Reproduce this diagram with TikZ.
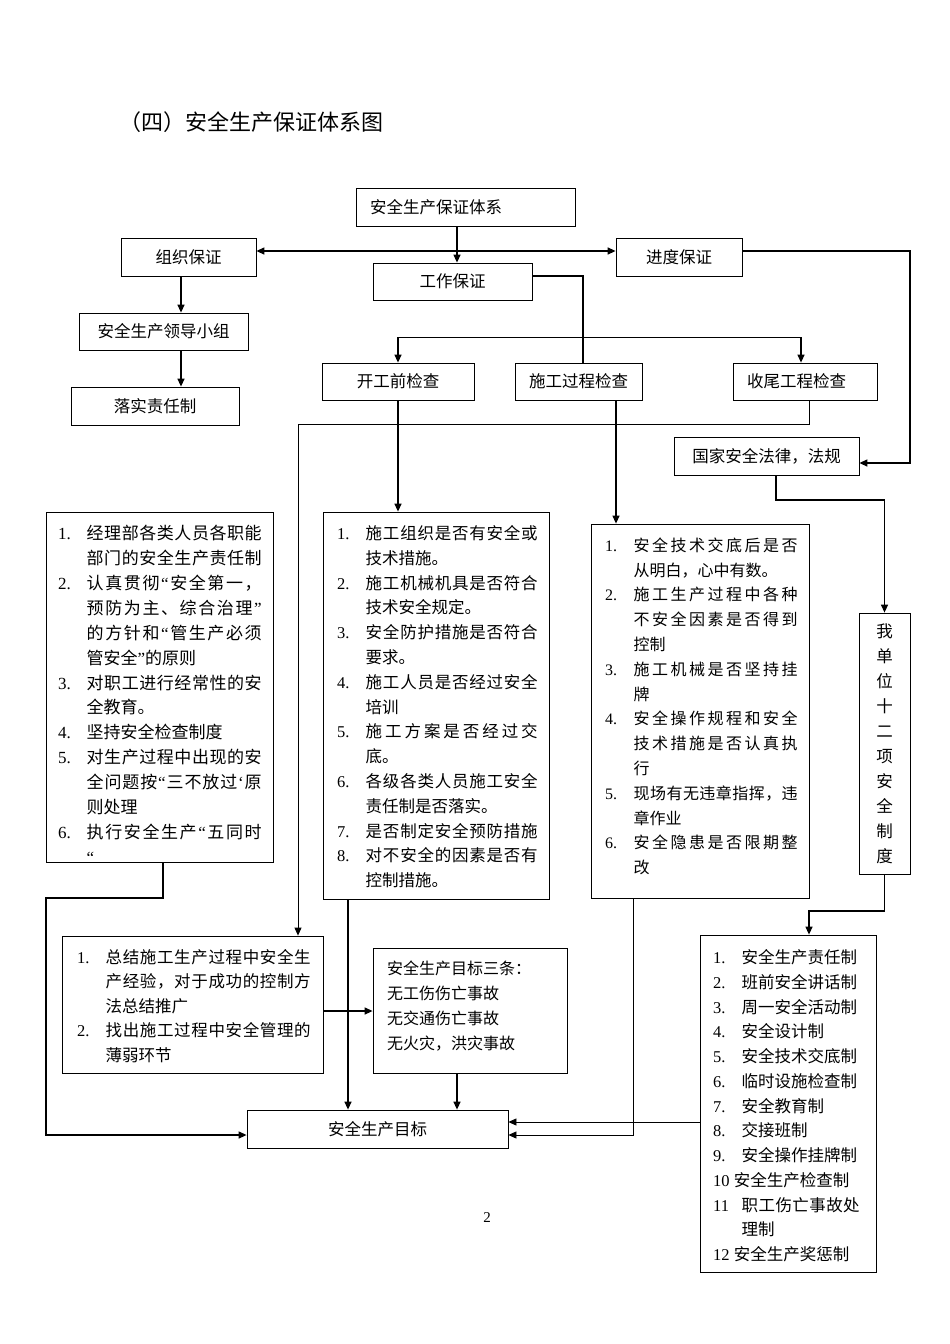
\documentclass[tikz,border=0pt]{standalone}
\usepackage{fontspec}
\setmainfont{Liberation Serif}
\newfontfamily\cjk{Noto Sans CJK SC}
\newfontfamily\numf{Liberation Serif}
\usetikzlibrary{arrows.meta}
\def\spE{SPEND}
\def\spA#1{#1\spB}
\def\spB#1{\ifx\spE#1\else\hfill#1\expandafter\spB\fi}
\newcommand\SP[2]{\makebox[#1pt][s]{\spA#2\spE}}
\newcommand\NI[2]{\strut\makebox[28.5pt][l]{\numf #1}#2}
\newcommand\CI[1]{\strut\hspace*{28.5pt}#1}
\newcommand\qL{{\numf “}}
\newcommand\qR{{\numf ”}}
\newcommand\qS{{\numf ‘}}
\begin{document}
\begin{tikzpicture}[x=1pt,y=-1pt,
  box/.style={draw,line width=0.8pt,inner sep=0pt,font=\cjk\fontsize{16.5}{20}\selectfont},
  lst/.style={inner sep=0pt,anchor=north west,align=left},
  thk/.style={line width=1.3pt},
  thn/.style={line width=0.8pt},
  arr/.style={-{Triangle[length=8pt,width=7pt]}}]
\fill[white] (0,0) rectangle (950,1344);
\useasboundingbox (0,0) rectangle (950,1344);

% title
\node[anchor=west,inner sep=0pt,font=\cjk\fontsize{22}{26}\selectfont] (title) at (119,122) {（四）安全生产保证体系图};

% top boxes
\node[box,minimum width=219pt,minimum height=38pt] (top) at (465.5,207) {\makebox[191pt][l]{安全生产保证体系}};
\node[box,minimum width=135pt,minimum height=38pt] (org) at (188.5,257) {组织保证};
\node[box,minimum width=159pt,minimum height=37pt] (work) at (452.5,281.5) {工作保证};
\node[box,minimum width=126pt,minimum height=38pt] (jindu) at (679,257) {进度保证};
\node[box,minimum width=169pt,minimum height=37pt] (lead) at (163.5,331.5) {安全生产领导小组};
\node[box,minimum width=168pt,minimum height=38pt] (luoshi) at (155,406) {落实责任制};
\node[box,minimum width=152pt,minimum height=37pt] (start) at (398,381.5) {开工前检查};
\node[box,minimum width=127pt,minimum height=37pt] (proc) at (578.5,381.5) {施工过程检查};
\node[box,minimum width=144pt,minimum height=37pt] (tail) at (805,381.5) {\makebox[116pt][l]{收尾工程检查}};
\node[box,minimum width=185pt,minimum height=38pt] (law) at (766.5,456) {国家安全法律，法规};

% list boxes
\node[box,minimum width=227pt,minimum height=350pt] (lbox) at (159.5,687) {};
\node[box,minimum width=226pt,minimum height=387pt] (mbox) at (436,705.5) {};
\node[box,minimum width=218pt,minimum height=374pt] (rbox) at (700,711) {};
\node[box,minimum width=51pt,minimum height=261pt,align=center,font=\cjk\fontsize{16.5}{25}\selectfont] (vbox) at (884.5,743.5) {我\\单\\位\\十\\二\\项\\安\\全\\制\\度};
\node[box,minimum width=261pt,minimum height=137pt] (sum) at (192.5,1004.5) {};
\node[box,minimum width=194pt,minimum height=125pt] (three) at (470,1010.5) {};
\node[box,minimum width=261pt,minimum height=38pt] (target) at (377.5,1129) {安全生产目标};
\node[box,minimum width=176pt,minimum height=337pt] (twelve) at (788,1103.5) {};

% list texts
\node[lst,font=\cjk\fontsize{17}{24.9}\selectfont] (ltxt) at (58,522) {%
\NI{1.}{\SP{175}{经理部各类人员各职能}}\\
\CI{\SP{175}{部门的安全生产责任制}}\\
\NI{2.}{\SP{175}{认真贯彻\qL 安全第一，}}\\
\CI{\SP{175}{预防为主、综合治理\qR}}\\
\CI{\SP{175}{的方针和\qL 管生产必须}}\\
\CI{管安全\qR 的原则}\\
\NI{3.}{\SP{175}{对职工进行经常性的安}}\\
\CI{全教育。}\\
\NI{4.}{坚持安全检查制度}\\
\NI{5.}{\SP{175}{对生产过程中出现的安}}\\
\CI{\SP{175}{全问题按\qL 三不放过\qS 原}}\\
\CI{则处理}\\
\NI{6.}{\SP{175}{执行安全生产\qL 五同时}}\\
\CI{\qL}};

\node[lst,font=\cjk\fontsize{16.5}{24.8}\selectfont] (mtxt) at (337,522) {%
\NI{1.}{\SP{172}{施工组织是否有安全或}}\\
\CI{技术措施。}\\
\NI{2.}{\SP{172}{施工机械机具是否符合}}\\
\CI{技术安全规定。}\\
\NI{3.}{\SP{172}{安全防护措施是否符合}}\\
\CI{要求。}\\
\NI{4.}{\SP{172}{施工人员是否经过安全}}\\
\CI{培训}\\
\NI{5.}{\SP{172}{施工方案是否经过交}}\\
\CI{底。}\\
\NI{6.}{\SP{172}{各级各类人员施工安全}}\\
\CI{责任制是否落实。}\\
\NI{7.}{\SP{172}{是否制定安全预防措施}}\\
\NI{8.}{\SP{172}{对不安全的因素是否有}}\\
\CI{控制措施。}};

\node[lst,font=\cjk\fontsize{16}{24.8}\selectfont] (rtxt) at (605,533.7) {%
\NI{1.}{\SP{164}{安全技术交底后是否}}\\
\CI{从明白，心中有数。}\\
\NI{2.}{\SP{164}{施工生产过程中各种}}\\
\CI{\SP{164}{不安全因素是否得到}}\\
\CI{控制}\\
\NI{3.}{\SP{164}{施工机械是否坚持挂}}\\
\CI{牌}\\
\NI{4.}{\SP{164}{安全操作规程和安全}}\\
\CI{\SP{164}{技术措施是否认真执}}\\
\CI{行}\\
\NI{5.}{\SP{164}{现场有无违章指挥，违}}\\
\CI{章作业}\\
\NI{6.}{\SP{164}{安全隐患是否限期整}}\\
\CI{改}};

\node[lst,font=\cjk\fontsize{16.5}{24.5}\selectfont] (stxt) at (77,946) {%
\NI{1.}{\SP{205}{总结施工生产过程中安全生}}\\
\CI{\SP{205}{产经验，对于成功的控制方}}\\
\CI{法总结推广}\\
\NI{2.}{\SP{205}{找出施工过程中安全管理的}}\\
\CI{薄弱环节}};

\node[lst,font=\cjk\fontsize{16}{25}\selectfont] (ttxt) at (387,956.6) {%
\strut 安全生产目标三条：\\
\strut 无工伤伤亡事故\\
\strut 无交通伤亡事故\\
\strut 无火灾，洪灾事故};

\node[lst,font=\cjk\fontsize{16.5}{24.75}\selectfont] (wtxt) at (713,946) {%
\NI{1.}{安全生产责任制}\\
\NI{2.}{班前安全讲话制}\\
\NI{3.}{周一安全活动制}\\
\NI{4.}{安全设计制}\\
\NI{5.}{安全技术交底制}\\
\NI{6.}{临时设施检查制}\\
\NI{7.}{安全教育制}\\
\NI{8.}{交接班制}\\
\NI{9.}{安全操作挂牌制}\\
\strut{\numf 10 }安全生产检查制\\
\NI{11}{\SP{118}{职工伤亡事故处}}\\
\CI{理制}\\
\strut{\numf 12 }安全生产奖惩制};

% page number
\node[inner sep=0pt,font=\numf\fontsize{15}{18}\selectfont] (pg) at (487,1218) {2};

% coordinates
\coordinate (j1) at (457,251);
\coordinate (j2) at (181,300);
\coordinate (j3) at (583,276);
\coordinate (h1) at (398,337);
\coordinate (h2) at (801,337);
\coordinate (j5) at (910,251);
\coordinate (j6) at (910,463);
\coordinate (k1) at (809,424);
\coordinate (k2) at (298,424);
\coordinate (k3) at (616,450);
\coordinate (k4) at (776,500);
\coordinate (k5) at (809,911);
\coordinate (m1) at (163,898);
\coordinate (m2) at (46,898);
\coordinate (m3) at (46,1135);
\coordinate (m4) at (348,1000);
\coordinate (m5) at (340,1011);
\coordinate (m6) at (457,1090);
\coordinate (m7) at (633,1135);
\coordinate (m8) at (600,1122);

% connectors
\draw[thk,arr] (j1 |- top.south) -- (j1 |- work.north);
\draw[thk,arr] (j1) -- (org.east |- j1);
\draw[thk,arr] (j1) -- (jindu.west |- j1);
\draw[thk,arr] (org.south -| j2) -- (lead.north -| j2);
\draw[thk,arr] (lead.south -| j2) -- (luoshi.north -| j2);
\draw[thk] (work.east |- j3) -- (j3) -- (j3 |- proc.north);
\draw[thn] (h1) -- (h2);
\draw[thk,arr] (h1) -- (h1 |- start.north);
\draw[thk,arr] (h2) -- (h2 |- tail.north);
\draw[thk,arr] (jindu.east |- j5) -- (j5) -- (j6) -- (law.east |- j6);
\draw[thn,arr] (tail.south -| k1) -- (k1) -- (k2) -- (k2 |- sum.north);
\draw[thk,arr] (start.south) -- (start.south |- mbox.north);
\draw[thk,arr] (proc.south -| k3) -- (k3 |- rbox.north);
\draw[thk,arr] (law.south -| k4) -- (k4) -| (vbox.north);
\draw[thk,arr] (vbox.south) |- (k5) -- (k5 |- twelve.north);
\draw[thk,arr] (lbox.south -| m1) -- (m1) -- (m2) -- (m3) -- (target.west |- m3);
\draw[thk,arr] (mbox.south -| m4) -- (target.north -| m4);
\draw[thk,arr] (sum.east |- m5) -- (three.west |- m5);
\draw[thk,arr] (three.south -| m6) -- (target.north -| m6);
\draw[thn,arr] (rbox.south -| m7) -- (m7) -- (target.east |- m7);
\draw[thn,arr] (twelve.west |- m8) -- (target.east |- m8);
\end{tikzpicture}
\end{document}
